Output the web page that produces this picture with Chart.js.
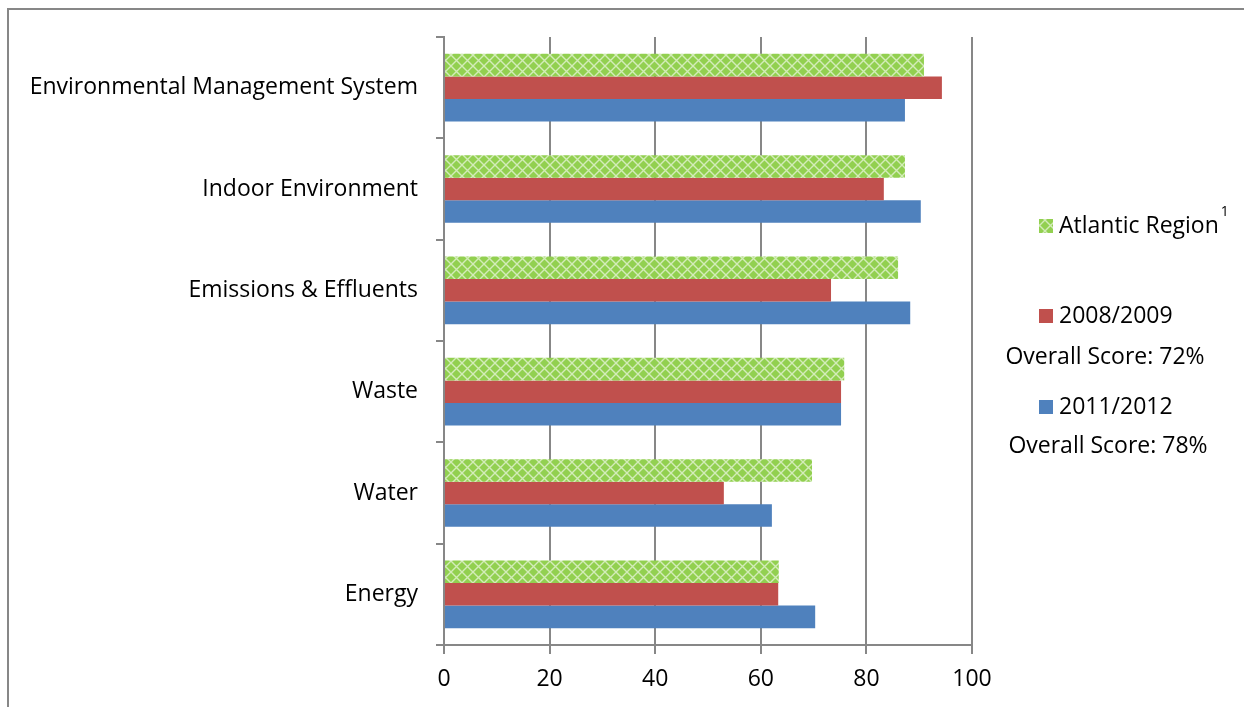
<!DOCTYPE html>
<html><head><meta charset="utf-8">
<script src="https://cdn.jsdelivr.net/npm/chart.js@4.4.0/dist/chart.umd.min.js"></script>
<style>html,body{margin:0;padding:0;background:#fff;}#wrap{width:1244px;height:707px;position:relative;}</style>
</head><body><div id="wrap"><canvas id="c" width="1244" height="707"></canvas></div>
<script>
const categories = ["Environmental Management System","Indoor Environment","Emissions & Effluents","Waste","Water","Energy"];
const seriesNames = ["Atlantic Region","2008/2009","2011/2012"];
const atlantic = [90.9, 87.3, 86.0, 75.8, 69.7, 63.4];
const y2008 = [94.3, 83.3, 73.3, 75.2, 53.0, 63.3];
const y2011 = [87.3, 90.3, 88.3, 75.2, 62.1, 70.3];
const xTicks = [0,20,40,60,80,100];
const overallScores = ["Overall Score: 72%","Overall Score: 78%"];

const FONT = "'Open Sans'";
const FS = 23;
const GREEN = "#92D050", RED = "#C0504D", BLUE = "#4F81BD", GRID = "#878787";

function hatch(){
  const n = 11;
  const p = document.createElement('canvas'); p.width = n; p.height = n;
  const g = p.getContext('2d');
  g.fillStyle = GREEN; g.fillRect(0,0,n,n);
  g.strokeStyle = 'rgba(255,255,255,0.6)'; g.lineWidth = 1.4;
  g.beginPath(); g.moveTo(0,0); g.lineTo(n,n); g.moveTo(n,0); g.lineTo(0,n); g.stroke();
  return document.getElementById('c').getContext('2d').createPattern(p,'repeat');
}
const pat = hatch();

const framePlugin = {
  id:'frame',
  beforeDraw(chart){
    const ctx = chart.ctx; ctx.save();
    ctx.strokeStyle = GRID; ctx.lineWidth = 2;
    ctx.strokeRect(8, 9, 1400, 900);
    ctx.restore();
  },
  afterDraw(chart){
    const ctx = chart.ctx; ctx.save();
    ctx.font = FS + "px " + FONT; ctx.fillStyle = "#000"; ctx.textBaseline = "middle";
    const items = [
      {fill: pat, label: seriesNames[0], y: 226, sup: true},
      {fill: RED, label: seriesNames[1], y: 316},
      {fill: BLUE, label: seriesNames[2], y: 407}
    ];
    items.forEach(it=>{
      ctx.fillStyle = it.fill; ctx.fillRect(1039, it.y-7, 14, 14);
      ctx.fillStyle = "#000"; ctx.textAlign = "left";
      ctx.fillText(it.label, 1059, it.y);
      if (it.sup){
        const w = ctx.measureText(it.label).width;
        ctx.font = "14px " + FONT; ctx.fillText("1", 1059 + w + 2, it.y - 14);
        ctx.font = FS + "px " + FONT;
      }
    });
    ctx.textAlign = "center";
    ctx.fillText(overallScores[0], 1105, 357);
    ctx.fillText(overallScores[1], 1108, 446);
    ctx.restore();
  }
};

new Chart(document.getElementById('c'), {
  type:'bar',
  data:{
    labels: categories,
    datasets:[
      {label: seriesNames[0], data: atlantic, backgroundColor: pat},
      {label: seriesNames[1], data: y2008, backgroundColor: RED},
      {label: seriesNames[2], data: y2011, backgroundColor: BLUE}
    ]
  },
  options:{
    indexAxis:'y',
    responsive:false, animation:false,
    layout:{padding:{left:0, top:37, right:272, bottom:0}},
    datasets:{bar:{categoryPercentage:0.667, barPercentage:1.0}},
    plugins:{legend:{display:false}, tooltip:{enabled:false}},
    scales:{
      x:{
        min:0, max:100,
        afterBuildTicks(s){ s.ticks = xTicks.map(v=>({value:v})); },
        grid:{color:GRID, lineWidth:2, tickLength:9, drawTicks:true},
        border:{color:GRID, width:2},
        ticks:{color:"#000", font:{family:"Open Sans", size:FS}, padding:12},
        afterFit(s){ s.height = 62; }
      },
      y:{
        grid:{drawOnChartArea:false, color:GRID, lineWidth:2, tickLength:8, offset:true},
        border:{color:GRID, width:2},
        ticks:{color:"#000", font:{family:"Open Sans", size:FS}, padding:18},
        afterFit(s){ s.width = 444; }
      }
    }
  },
  plugins:[framePlugin]
});
</script></body></html>
